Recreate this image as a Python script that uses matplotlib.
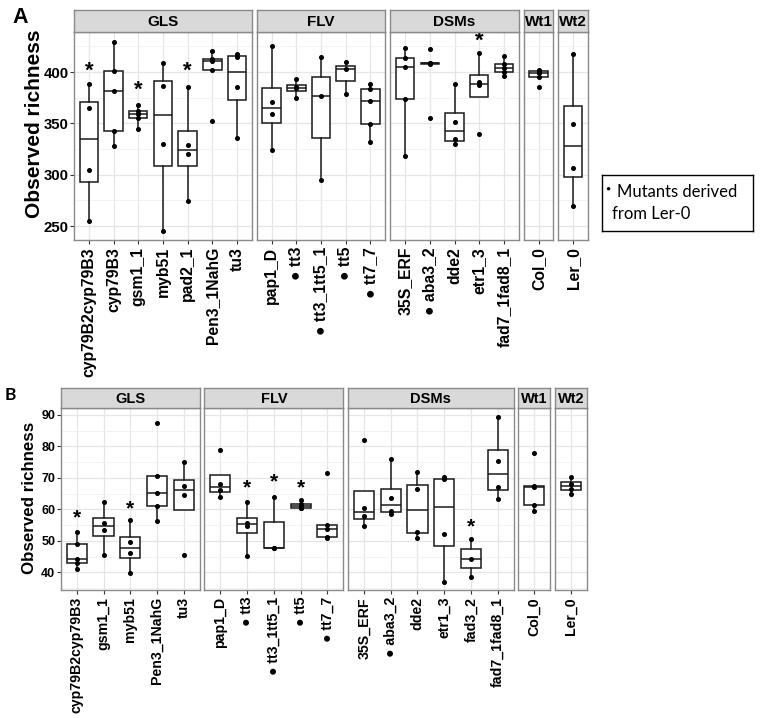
import matplotlib
matplotlib.use("Agg")
import matplotlib.pyplot as plt

W, H = 760, 718
SANS = ["Liberation Sans", "DejaVu Sans"]

# ---- panel A (richness, first data set) ----
a_gls = ["cyp79B2cyp79B3", "cyp79B3", "gsm1_1", "myb51", "pad2_1", "Pen3_1NahG", "tu3"]
a_gls_vals = [[255, 305, 365, 388], [328, 343, 382, 401, 429], [345, 355, 359.5, 362, 367.5],
              [245.5, 329.5, 386, 409], [274, 320, 329, 385], [352, 402, 410.7, 413, 420.5],
              [335.4, 385.7, 415, 418]]
a_flv = ["pap1_D", "tt3", "tt3_1tt5_1", "tt5", "tt7_7"]
a_flv_vals = [[324.4, 359, 370.5, 425.6], [374.7, 384, 385.5, 393.5], [294.8, 376.3, 414.3],
              [378.6, 403, 409.7], [331.5, 349.7, 371.8, 383.8, 388.3]]
a_dsm = ["35S_ERF", "aba3_2", "dde2", "etr1_3", "fad7_1fad8_1"]
a_dsm_vals = [[318.5, 373.4, 405.2, 413.3, 423.7], [355.5, 407.5, 408.4, 409, 422.4],
              [329.9, 334.4, 351.3, 388.3], [339.3, 387.3, 390, 418.2], [396, 400.3, 403.6, 407.8, 416]]
a_wt1 = ["Col_0"]
a_wt1_vals = [[385, 395, 399, 401, 402]]
a_wt2 = ["Ler_0"]
a_wt2_vals = [[269.8, 307, 349.6, 417.5]]
a_stars = {"cyp79B2cyp79B3": 401, "gsm1_1": 382, "pad2_1": 401, "etr1_3": 430.5}

# ---- panel B (richness, second data set) ----
b_gls = ["cyp79B2cyp79B3", "gsm1_1", "myb51", "Pen3_1NahG", "tu3"]
b_gls_vals = [[41.2, 42.9, 44.3, 48.9, 52.8], [45.4, 53.6, 55.6, 62.5], [39.8, 46, 49.5, 56.6],
              [56.2, 61.1, 65.1, 70.6, 87.4], [45.5, 64.6, 67.4, 75]]
b_flv = ["pap1_D", "tt3", "tt3_1tt5_1", "tt5", "tt7_7"]
b_flv_vals = [[64, 66.2, 68.1, 78.8], [45.3, 54.7, 55.8, 62.2], [47.7, 47.7, 64],
              [60.6, 60.6, 61.1, 61.6, 63], [50.8, 51.2, 53.7, 55.1, 71.7]]
b_dsm = ["35S_ERF", "aba3_2", "dde2", "etr1_3", "fad3_2", "fad7_1fad8_1"]
b_dsm_vals = [[54.7, 57.9, 60.4, 82.1], [58.5, 59.4, 63.5, 75.9], [50.8, 52.9, 66.5, 72],
              [36.8, 52.2, 69.6, 70.4], [38.6, 44.2, 50.6], [63.3, 67, 75.4, 89.5]]
b_wt1 = ["Col_0"]
b_wt1_vals = [[59.5, 61.4, 67, 67.4, 78]]
b_wt2 = ["Ler_0"]
b_wt2_vals = [[64.9, 66.4, 68.2, 70.2]]
b_stars = {"cyp79B2cyp79B3": 57.4, "myb51": 60.3, "tt3": 66.7, "tt3_1tt5_1": 68.8,
           "tt5": 66.7, "fad3_2": 54.5}

ler_mutants = {"tt3", "tt3_1tt5_1", "tt5", "tt7_7", "aba3_2"}
facets = ["GLS", "FLV", "DSMs", "Wt1", "Wt2"]

fig = plt.figure(figsize=(W / 100, H / 100), dpi=100)


def px_axes(x0, y0, x1, y1):
    return fig.add_axes([x0 / W, 1 - y1 / H, (x1 - x0) / W, (y1 - y0) / H])


def draw_row(groups, vals_list, x0, x1, gap, top, strip_h, bottom, ylim, ymajor, yminor,
             stars, fs_tick, fs_x, fs_strip, fs_star):
    units = [len(g) + 0.2 for g in groups]
    unit_px = (x1 - x0 - gap * (len(groups) - 1)) / sum(units)
    x = x0
    for k, (names, vals) in enumerate(zip(groups, vals_list)):
        w = units[k] * unit_px
        ax = px_axes(x, top + strip_h, x + w, bottom)
        st = px_axes(x, top, x + w, top + strip_h)
        x += w + gap

        pos = list(range(len(names)))
        ax.boxplot(vals, positions=pos, widths=0.75, showfliers=False, showcaps=False,
                   patch_artist=True, zorder=3,
                   boxprops=dict(facecolor="white", edgecolor="#1a1a1a", linewidth=1.1),
                   medianprops=dict(color="#1a1a1a", linewidth=1.1),
                   whiskerprops=dict(color="#1a1a1a", linewidth=1.1))
        for i, v in enumerate(vals):
            ax.plot([i] * len(v), v, "o", color="black", ms=2.6, zorder=4)
        for i, n in enumerate(names):
            if n in stars:
                ax.text(i, stars[n], "*", ha="center", va="center", fontsize=fs_star,
                        fontweight="bold", family=SANS, zorder=5)

        ax.set_xlim(-0.6, len(names) - 0.4)
        ax.set_ylim(*ylim)
        ax.set_yticks(ymajor)
        ax.set_yticks(yminor, minor=True)
        ax.set_xticks(pos)
        labels = [("\u25cf " + n) if n in ler_mutants else n for n in names]
        ax.set_xticklabels(labels, rotation=90, fontsize=fs_x, fontweight="bold", family=SANS)
        ax.grid(True, which="major", color="#e6e6e6", linewidth=0.9, zorder=0)
        ax.grid(True, which="minor", axis="y", color="#f1f1f1", linewidth=0.6, zorder=0)
        ax.set_axisbelow(True)
        ax.tick_params(axis="x", length=3, color="#333333", pad=2)
        ax.tick_params(which="minor", length=0)
        if k == 0:
            ax.tick_params(axis="y", length=3, color="#333333", labelsize=fs_tick, pad=1)
            for t in ax.get_yticklabels():
                t.set_fontweight("bold")
                t.set_family(SANS)
        else:
            ax.tick_params(axis="y", length=0, labelleft=False)
        for s in ax.spines.values():
            s.set_color("#8a8a8a")
            s.set_linewidth(1.0)

        st.set_facecolor("#d9d9d9")
        st.set_xticks([])
        st.set_yticks([])
        for s in st.spines.values():
            s.set_color("#8a8a8a")
            s.set_linewidth(1.0)
        st.text(0.5, 0.45, facets[k], ha="center", va="center", transform=st.transAxes,
                fontsize=fs_strip, fontweight="bold", family=SANS)


draw_row([a_gls, a_flv, a_dsm, a_wt1, a_wt2],
         [a_gls_vals, a_flv_vals, a_dsm_vals, a_wt1_vals, a_wt2_vals],
         74, 588, 5, 10, 22, 240, (236.4, 439), [250, 300, 350, 400], [275, 325, 375, 425],
         a_stars, 10.8, 11.3, 11, 16)

draw_row([b_gls, b_flv, b_dsm, b_wt1, b_wt2],
         [b_gls_vals, b_flv_vals, b_dsm_vals, b_wt1_vals, b_wt2_vals],
         60.7, 587, 4.5, 388, 20, 590, (34.4, 92.2), [40, 50, 60, 70, 80, 90],
         [35, 45, 55, 65, 75, 85], b_stars, 9, 10.2, 10.5, 15)

fig.text(35 / W, 1 - 123.5 / H, "Observed richness", rotation=90, ha="center", va="center",
         fontsize=15, fontweight="bold", family=SANS)
fig.text(30 / W, 1 - 498 / H, "Observed richness", rotation=90, ha="center", va="center",
         fontsize=12.2, fontweight="bold", family=SANS)
fig.text(12 / W, 1 - 23 / H, "A", fontsize=15.5, fontweight="bold", family=SANS)
fig.text(5 / W, 1 - 400 / H, "B", fontsize=12.5, fontweight="bold", family=["Lato", "DejaVu Sans"])

# legend note for the bullet marks
leg = px_axes(602, 175, 753, 231)
leg.set_xticks([])
leg.set_yticks([])
for s in leg.spines.values():
    s.set_color("black")
    s.set_linewidth(1.0)
leg.text(6 / 151, 1 - 14 / 56, "\u25cf", fontsize=6, family=SANS, ha="center", va="center",
         transform=leg.transAxes)
leg.text(15 / 151, 1 - 22 / 56, "Mutants derived", fontsize=12, family=["Lato", "DejaVu Sans"],
         va="baseline", transform=leg.transAxes)
leg.text(10 / 151, 1 - 44 / 56, "from Ler-0", fontsize=12, family=["Lato", "DejaVu Sans"],
         va="baseline", transform=leg.transAxes)

fig.savefig("out.png", dpi=100)
